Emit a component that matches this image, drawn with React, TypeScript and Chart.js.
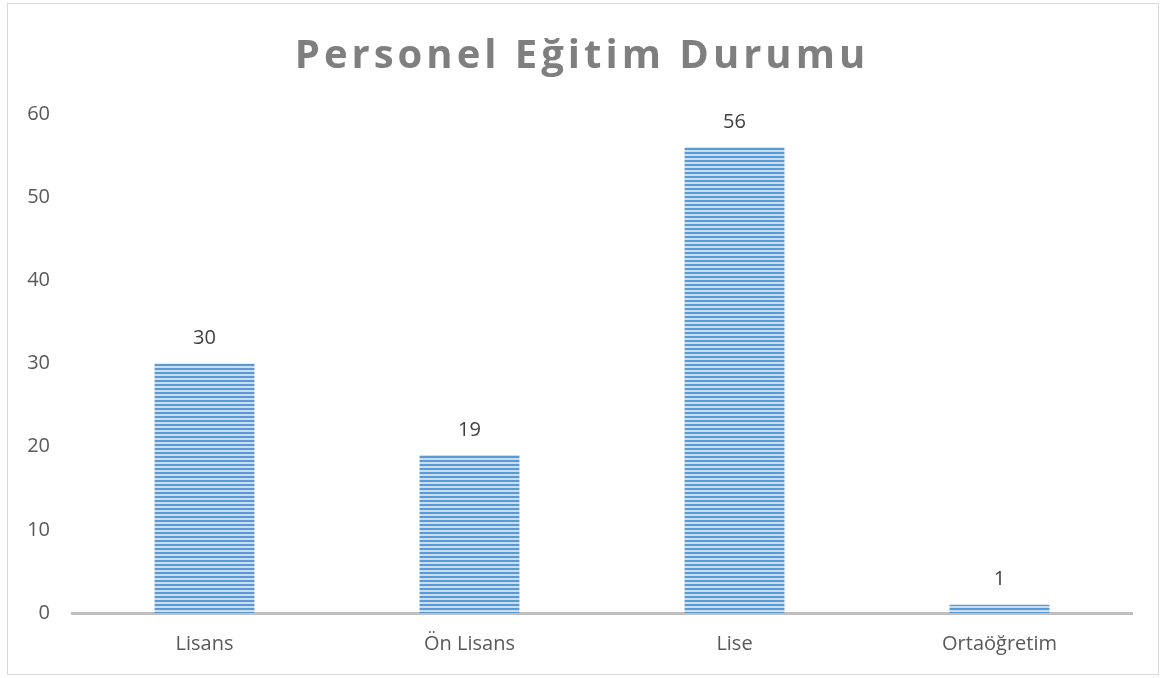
import React, { useEffect, useRef } from "react";
import { Chart, registerables } from "chart.js";

Chart.register(...registerables);

const categories = ["Lisans", "Ön Lisans", "Lise", "Ortaöğretim"];
const values = [30, 19, 56, 1];
const titleText = "Personel Eğitim Durumu";
const yTicks = [0, 10, 20, 30, 40, 50, 60];

const FONT = "'Open Sans', 'DejaVu Sans', sans-serif";

function makePattern(): CanvasPattern | string {
  const c = document.createElement("canvas");
  c.width = 4;
  c.height = 4;
  const g = c.getContext("2d");
  if (!g) return "#5b9bd5";
  g.fillStyle = "#c9def1";
  g.fillRect(0, 0, 4, 4);
  g.fillStyle = "#5b9bd5";
  g.fillRect(0, 0, 4, 2);
  const p = g.createPattern(c, "repeat");
  return p || "#5b9bd5";
}

export default function App() {
  const ref = useRef<HTMLCanvasElement | null>(null);

  useEffect(() => {
    document.body.style.margin = "0";
    const canvas = ref.current;
    if (!canvas) return;

    const titlePlugin = {
      id: "customTitle",
      afterDraw(chart: any) {
        const ctx = chart.ctx as CanvasRenderingContext2D;
        ctx.save();
        ctx.font = `bold 40px ${FONT}`;
        (ctx as any).letterSpacing = "4px";
        ctx.fillStyle = "#7f7f7f";
        ctx.textAlign = "center";
        ctx.textBaseline = "alphabetic";
        ctx.fillText(titleText, chart.width / 2 - 1, 64);
        ctx.restore();
      },
    };

    const labelPlugin = {
      id: "valueLabels",
      afterDatasetsDraw(chart: any) {
        const ctx = chart.ctx as CanvasRenderingContext2D;
        const meta = chart.getDatasetMeta(0);
        ctx.save();
        ctx.font = `20px ${FONT}`;
        ctx.fillStyle = "#404040";
        ctx.textAlign = "center";
        ctx.textBaseline = "middle";
        meta.data.forEach((bar: any, i: number) => {
          ctx.fillText(String(values[i]), bar.x, bar.y - 25);
        });
        ctx.restore();
      },
    };

    const chart = new Chart(canvas, {
      type: "bar",
      data: {
        labels: categories,
        datasets: [
          {
            data: values,
            backgroundColor: makePattern() as any,
            borderWidth: 0,
            barPercentage: 1,
            categoryPercentage: 0.377,
          },
        ],
      },
      options: {
        animation: false,
        responsive: false,
        layout: { padding: { left: 10, right: 26, top: 110, bottom: 0 } },
        plugins: {
          legend: { display: false },
          title: { display: false },
          tooltip: { enabled: false },
        },
        scales: {
          x: {
            grid: { display: false, drawTicks: false },
            border: { display: true, color: "#bfbfbf", width: 3 },
            ticks: {
              color: "#595959",
              font: { family: FONT, size: 20 },
              padding: 19,
            },
            afterFit(scale: any) {
              scale.height = 61;
            },
          },
          y: {
            min: 0,
            max: 60,
            grid: { display: false, drawTicks: false },
            border: { display: false },
            ticks: {
              stepSize: 10,
              color: "#595959",
              font: { family: FONT, size: 20 },
              padding: 22,
              callback: (v: any) => (yTicks.includes(Number(v)) ? String(v) : ""),
            },
            afterFit(scale: any) {
              scale.width = 54;
            },
          },
        },
      },
      plugins: [titlePlugin, labelPlugin],
    });

    return () => chart.destroy();
  }, []);

  return (
    <div
      style={{
        position: "absolute",
        left: 7,
        top: 3,
        width: 1150,
        height: 670,
        border: "1px solid #d9d9d9",
        background: "#fff",
      }}
    >
      <canvas ref={ref} width={1150} height={670} style={{ display: "block" }} />
    </div>
  );
}
